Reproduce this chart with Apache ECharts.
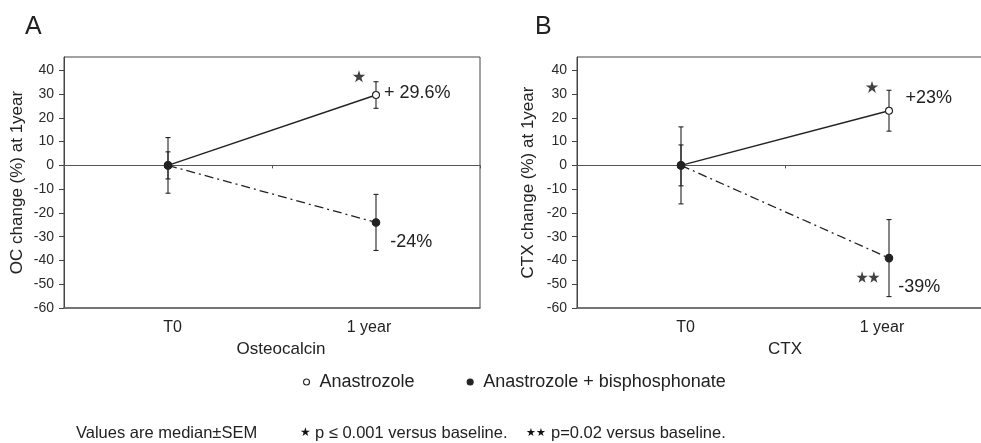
<!DOCTYPE html>
<html>
<head>
<meta charset="utf-8">
<script src="https://cdn.jsdelivr.net/npm/echarts@6/dist/echarts.min.js"></script>
<style>
  html, body { margin: 0; padding: 0; background: #fff; }
  #chart { width: 981px; height: 443px; }
</style>
</head>
<body>
<div id="chart"></div>
<script>
// ---- data ----
const timepoints = ['T0', '1 year'];
const yTicks = [-60, -50, -40, -30, -20, -10, 0, 10, 20, 30, 40];
const seriesNames = ['Anastrozole', 'Anastrozole + bisphosphonate'];

// Osteocalcin: median % change from baseline and SEM
const ocAnastrozole = [0, 29.6];
const ocAnastrozoleSem = [5.7, 5.6];
const ocCombined = [0, -24];
const ocCombinedSem = [11.7, 11.8];

// CTX: median % change from baseline and SEM
const ctxAnastrozole = [0, 23];
const ctxAnastrozoleSem = [8.6, 8.6];
const ctxCombined = [0, -39];
const ctxCombinedSem = [16.2, 16.2];

// ---- styling ----
const FONT = "'Liberation Sans', Arial, Helvetica, sans-serif";
const INK = '#222';
const STAR = 'path://M0,-10L2.245,-3.09L9.51,-3.09L3.633,1.18L5.88,8.09L0,3.82L-5.88,8.09L-3.633,1.18L-9.51,-3.09L-2.245,-3.09Z';
const STAR2 = 'path://M0,-10L2.245,-3.09L9.51,-3.09L3.633,1.18L5.88,8.09L0,3.82L-5.88,8.09L-3.633,1.18L-9.51,-3.09L-2.245,-3.09Z' +
              'M20,-10L22.245,-3.09L29.51,-3.09L23.633,1.18L25.88,8.09L20,3.82L14.12,8.09L16.367,1.18L10.49,-3.09L17.755,-3.09Z';

function pctLabel(v, spaced) {
  if (v > 0) return '+' + (spaced ? ' ' : '') + v + '%';
  return v + '%';
}

const panels = [
  {
    letter: 'A', letterX: 25, xName: 'Osteocalcin', yName: 'OC change (%) at 1year',
    left: 64, width: 416, yNameGap: 38, xNamePad: [0, 0, 0, 18],
    anastrozole: ocAnastrozole, anastrozoleSem: ocAnastrozoleSem,
    combined: ocCombined, combinedSem: ocCombinedSem,
    spaced: true, aOffset: [0, -2], cOffset: [6, 19.5],
    stars: [{ value: [1, 37.5], symbol: STAR, size: [12.5, 12], offset: [-17, 0] }]
  },
  {
    letter: 'B', letterX: 535, xName: 'CTX', yName: 'CTX change (%) at 1year',
    left: 577, width: 416, yNameGap: 40, xNamePad: 0,
    anastrozole: ctxAnastrozole, anastrozoleSem: ctxAnastrozoleSem,
    combined: ctxCombined, combinedSem: ctxCombinedSem,
    spaced: false, aOffset: [8.5, -13], cOffset: [1, 28.5],
    stars: [
      { value: [1, 33], symbol: STAR, size: [12.5, 12], offset: [-17, 0] },
      { value: [1, -47], symbol: STAR2, size: [23, 11.5], offset: [-21, 0] }
    ]
  }
];

function errorBarItem(params, api) {
  const lo = api.coord([api.value(0), api.value(1)]);
  const hi = api.coord([api.value(0), api.value(2)]);
  const x = lo[0];
  const w = 2.5;
  const style = { stroke: INK, lineWidth: 1.1 };
  return {
    type: 'group',
    children: [
      { type: 'line', shape: { x1: x, y1: lo[1], x2: x, y2: hi[1] }, style },
      { type: 'line', shape: { x1: x - w, y1: lo[1], x2: x + w, y2: lo[1] }, style },
      { type: 'line', shape: { x1: x - w, y1: hi[1], x2: x + w, y2: hi[1] }, style }
    ]
  };
}

const grids = [], xAxes = [], yAxes = [], series = [], graphics = [];

panels.forEach((p, gi) => {
  grids.push({
    left: p.left, top: 57, width: p.width, height: 251,
    outerBoundsMode: 'none', containLabel: false,
    show: true, borderColor: '#444', borderWidth: 1, backgroundColor: 'transparent'
  });

  // bottom axis carrying the time point labels
  xAxes.push({
    type: 'category', gridIndex: gi, data: timepoints, position: 'bottom',
    boundaryGap: true,
    axisLine: { onZero: false, lineStyle: { color: '#666', width: 1.6 } },
    axisTick: { show: false },
    axisLabel: {
      margin: 12, color: INK, fontFamily: FONT, fontSize: 16,
      formatter: (v, i) => (i === 0 ? '{t0|' + v + '}' : '{t1|' + v + '}'),
      rich: {
        t0: { fontFamily: FONT, fontSize: 16, color: INK, padding: [0, 0, 0, 9] },
        t1: { fontFamily: FONT, fontSize: 16, color: INK, padding: [0, 14, 0, 0] }
      }
    },
    name: p.xName, nameLocation: 'middle', nameGap: 32,
    nameTextStyle: { color: INK, fontFamily: FONT, fontSize: 17, padding: p.xNamePad },
    splitLine: { show: false }
  });
  // baseline at 0 %
  xAxes.push({
    type: 'category', gridIndex: gi, data: timepoints, position: 'top',
    boundaryGap: true,
    axisLine: { onZero: true, lineStyle: { color: '#555', width: 1.2 } },
    axisTick: { show: true, inside: true, length: 3, lineStyle: { color: '#555' } },
    axisLabel: { show: false },
    splitLine: { show: false }
  });

  yAxes.push({
    type: 'value', gridIndex: gi, min: -60, max: 45.6, position: 'left',
    axisLine: { show: true, lineStyle: { color: '#444', width: 1 } },
    axisTick: { show: true, length: 5, customValues: yTicks, lineStyle: { color: '#444' } },
    axisLabel: { customValues: yTicks, margin: 10, color: '#2a2a2a', fontFamily: FONT, fontSize: 14 },
    splitLine: { show: false },
    name: p.yName, nameLocation: 'middle', nameGap: p.yNameGap,
    nameTextStyle: { color: INK, fontFamily: FONT, fontSize: 17 }
  });

  const xi = gi * 2;

  // error bars (median ± SEM)
  series.push({
    type: 'custom', xAxisIndex: xi, yAxisIndex: gi, z: 1, silent: true,
    renderItem: errorBarItem, encode: { x: 0, y: [1, 2] },
    data: p.anastrozole.map((v, i) => [i, v - p.anastrozoleSem[i], v + p.anastrozoleSem[i]])
      .concat(p.combined.map((v, i) => [i, v - p.combinedSem[i], v + p.combinedSem[i]]))
  });

  const labelBase = { show: true, position: 'right', distance: 4, color: INK, fontFamily: FONT, fontSize: 18 };

  series.push({
    name: seriesNames[0], type: 'line', xAxisIndex: xi, yAxisIndex: gi, z: 3,
    symbol: 'circle', symbolSize: 7,
    itemStyle: { color: '#fff', borderColor: INK, borderWidth: 1.1 },
    lineStyle: { color: INK, width: 1.4, type: 'solid' },
    data: p.anastrozole.map((v, i) => i === timepoints.length - 1
      ? { value: v, label: Object.assign({}, labelBase, { offset: p.aOffset, formatter: () => pctLabel(v, p.spaced) }) }
      : v)
  });

  series.push({
    name: seriesNames[1], type: 'line', xAxisIndex: xi, yAxisIndex: gi, z: 4,
    symbol: 'circle', symbolSize: 7.5,
    itemStyle: { color: INK, borderColor: INK, borderWidth: 1.1 },
    lineStyle: { color: INK, width: 1.3, type: [9, 4, 2, 4] },
    data: p.combined.map((v, i) => i === timepoints.length - 1
      ? { value: v, label: Object.assign({}, labelBase, { offset: p.cOffset, formatter: () => pctLabel(v, p.spaced) }) }
      : v)
  });

  // significance markers
  p.stars.forEach(s => {
    series.push({
      type: 'scatter', xAxisIndex: xi, yAxisIndex: gi, z: 5, silent: true,
      symbol: s.symbol, symbolSize: s.size, symbolOffset: s.offset,
      itemStyle: { color: '#111' },
      data: [s.value]
    });
  });

  graphics.push({
    type: 'text',
    style: { x: p.letterX, y: 27, text: p.letter, fontFamily: FONT, fontSize: 25, fill: INK, verticalAlign: 'middle' }
  });
});

// footnotes
graphics.push(
  { type: 'text', style: { x: 76, y: 433, text: 'Values are median±SEM', fontFamily: FONT, fontSize: 16.5, fill: INK, verticalAlign: 'middle' } },
  { type: 'text', style: { x: 300, y: 433, text: '{s|★}p ≤ 0.001 versus baseline.', fontFamily: FONT, fontSize: 16.5, fill: INK, verticalAlign: 'middle',
      rich: { s: { fontSize: 12, fill: '#111', padding: [0, 4, 0, 0] } } } },
  { type: 'text', style: { x: 526, y: 433, text: '{s|★★}p=0.02 versus baseline.', fontFamily: FONT, fontSize: 16.5, fill: INK, verticalAlign: 'middle',
      rich: { s: { fontSize: 11, fill: '#111', padding: [0, 5, 0, 0] } } } }
);

const chart = echarts.init(document.getElementById('chart'), null, { renderer: 'canvas' });
chart.setOption({
  animation: false,
  backgroundColor: '#fff',
  textStyle: { fontFamily: FONT },
  grid: grids,
  xAxis: xAxes,
  yAxis: yAxes,
  legend: {
    data: seriesNames, selectedMode: false,
    left: 303, top: 373, padding: 0,
    icon: 'circle', itemWidth: 6, itemHeight: 6, itemGap: 52,
    itemStyle: { borderWidth: 1.1 },
    textStyle: { color: INK, fontFamily: FONT, fontSize: 18, padding: [0, 0, 0, 5] }
  },
  series: series,
  graphic: graphics
});
</script>
</body>
</html>
